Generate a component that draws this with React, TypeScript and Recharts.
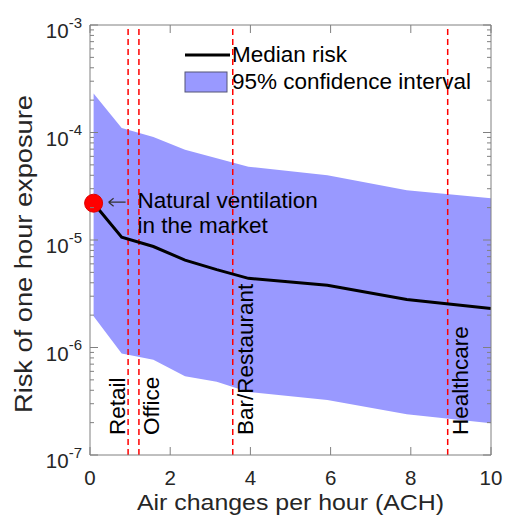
import React from "react";
import {
  ComposedChart,
  Area,
  Line,
  XAxis,
  YAxis,
  ReferenceLine,
  ReferenceDot,
  Customized,
} from "recharts";

// air changes per hour sampled in the model
const ach = [0.09, 0.79, 1.58, 2.37, 3.16, 3.95, 5.92, 7.9, 10];
const medianRisk = [2.2e-5, 1.06e-5, 8.7e-6, 6.5e-6, 5.3e-6, 4.4e-6, 3.8e-6, 2.8e-6, 2.3e-6];
const upperCI = [2.3e-4, 1.1e-4, 9.1e-5, 6.9e-5, 5.75e-5, 4.8e-5, 4.0e-5, 2.9e-5, 2.45e-5];
const lowerCI = [1.95e-6, 8.8e-7, 7.7e-7, 5.4e-7, 4.8e-7, 3.85e-7, 3.25e-7, 2.4e-7, 1.97e-7];

const venueNames = ["Retail", "Office", "Bar/Restaurant", "Healthcare"];
const venueAch = [0.95, 1.22, 3.56, 8.92];

const marketAch = 0.09;
const marketRisk = 2.2e-5;

const xTicks = [0, 2, 4, 6, 8, 10];
const majorExp = [-7, -6, -5, -4, -3];

const data = ach.map((a, i) => ({
  ach: a,
  median: medianRisk[i],
  band: [lowerCI[i], upperCI[i]],
}));

const yTicks: number[] = [];
majorExp.forEach((e) => {
  yTicks.push(Math.pow(10, e));
  if (e < -3) for (let m = 2; m <= 9; m++) yTicks.push(m * Math.pow(10, e));
});

const FONT = "'Liberation Sans', Arial, Helvetica, sans-serif";
const AXIS = "#808080";
const TXT = "#262626";

const isMajor = (v: number) => Math.abs(Math.log10(v) - Math.round(Math.log10(v))) < 1e-6;

function LeftTick(props: any) {
  const { x, y, payload } = props;
  const major = isMajor(payload.value);
  return (
    <g>
      <line x1={x} x2={x + (major ? 8 : 4)} y1={y} y2={y} stroke={AXIS} />
      {major && (
        <text x={x - 8} y={y + 13} textAnchor="end" fontSize={20.5} fill={TXT} fontFamily={FONT}>
          <tspan>10</tspan>
          <tspan dy={-10.5} fontSize={15}>{String(Math.round(Math.log10(payload.value)))}</tspan>
        </text>
      )}
    </g>
  );
}

function RightTick(props: any) {
  const { x, y, payload } = props;
  const major = isMajor(payload.value);
  return <line x1={x} x2={x - (major ? 8 : 4)} y1={y} y2={y} stroke={AXIS} />;
}

function BottomTick(props: any) {
  const { x, y, payload } = props;
  return (
    <g>
      <line x1={x} x2={x} y1={y} y2={y - 8} stroke={AXIS} />
      <text x={x} y={y + 30} textAnchor="middle" fontSize={20.5} fill={TXT} fontFamily={FONT}>
        {payload.value}
      </text>
    </g>
  );
}

function TopTick(props: any) {
  const { x, y } = props;
  return <line x1={x} x2={x} y1={y} y2={y + 8} stroke={AXIS} />;
}

function VenueLabel(name: string, left: boolean) {
  return (props: any) => {
    const { viewBox } = props;
    const x = viewBox.x + (left ? -3 : 20);
    const y = viewBox.y + viewBox.height - 20;
    return (
      <text
        x={x}
        y={y}
        transform={`rotate(-90 ${x} ${y})`}
        fontSize={22.5}
        fill="#000"
        fontFamily={FONT}
      >
        {name}
      </text>
    );
  };
}

function MarketLabel(props: any) {
  const { viewBox } = props;
  const cx = viewBox.x + viewBox.width / 2;
  const cy = viewBox.y + viewBox.height / 2;
  return (
    <g>
      <path
        d={`M${cx + 15} ${cy - 1} H${cx + 32} M${cx + 15} ${cy - 1} l5 -4 M${cx + 15} ${cy - 1} l5 4`}
        stroke="#333"
        strokeWidth={1.2}
        fill="none"
      />
      <text x={cx + 44} y={cy + 5} fontSize={22.5} fill="#000" fontFamily={FONT}>
        Natural ventilation
      </text>
      <text x={cx + 44} y={cy + 30} fontSize={22.5} fill="#000" fontFamily={FONT}>
        in the market
      </text>
    </g>
  );
}

function LegendBox() {
  return (
    <g fontFamily={FONT} fontSize={22.5}>
      <line x1={185} x2={230} y1={55} y2={55} stroke="#000" strokeWidth={3} />
      <text x={232} y={62} fill="#000">Median risk</text>
      <rect x={185} y={72} width={42} height={20} fill="#9999ff" stroke="#555577" strokeWidth={1} />
      <text x={232} y={89} fill="#000">95% confidence interval</text>
    </g>
  );
}

export default function App() {
  return (
    <div style={{ position: "absolute", left: 0, top: 0, background: "#fff" }}>
      <ComposedChart
        width={505}
        height={516}
        data={data}
        margin={{ top: 24, right: 13, bottom: 0, left: 0 }}
      >
        <XAxis
          dataKey="ach"
          type="number"
          domain={[0, 10]}
          ticks={xTicks}
          interval={0}
          allowDataOverflow
          height={61}
          stroke={AXIS}
          tickSize={0}
          tickMargin={0}
          tickLine={false}
          tick={<BottomTick />}
          label={{
            content: (p: any) => (
              <text
                x={p.viewBox.x + p.viewBox.width / 2}
                y={p.viewBox.y + 55}
                textAnchor="middle"
                fontSize={22}
                textLength={307}
                lengthAdjust="spacingAndGlyphs"
                fill={TXT}
                fontFamily={FONT}
              >
                Air changes per hour (ACH)
              </text>
            ),
          }}
        />
        <XAxis
          xAxisId="top"
          orientation="top"
          dataKey="ach"
          type="number"
          domain={[0, 10]}
          ticks={xTicks}
          interval={0}
          height={1}
          stroke={AXIS}
          tickSize={0}
          tickMargin={0}
          tickLine={false}
          tick={<TopTick />}
        />
        <YAxis
          scale="log"
          type="number"
          domain={[1e-7, 1e-3]}
          allowDataOverflow
          ticks={yTicks}
          interval={0}
          width={90}
          stroke={AXIS}
          tickSize={0}
          tickMargin={0}
          tickLine={false}
          tick={<LeftTick />}
          label={{
            content: () => {
              const x = 32;
              const y = 254;
              return (
                <text
                  x={x}
                  y={y}
                  transform={`rotate(-90 ${x} ${y})`}
                  textAnchor="middle"
                  fontSize={23}
                  textLength={318}
                  lengthAdjust="spacingAndGlyphs"
                  fill={TXT}
                  fontFamily={FONT}
                >
                  Risk of one hour exposure
                </text>
              );
            },
          }}
        />
        <YAxis
          yAxisId="right"
          orientation="right"
          scale="log"
          type="number"
          domain={[1e-7, 1e-3]}
          allowDataOverflow
          ticks={yTicks}
          interval={0}
          width={1}
          stroke={AXIS}
          tickSize={0}
          tickMargin={0}
          tickLine={false}
          tick={<RightTick />}
        />
        <Area
          dataKey="band"
          type="linear"
          fill="#9999ff"
          fillOpacity={1}
          stroke="none"
          isAnimationActive={false}
          activeDot={false}
        />
        {venueAch.map((v, i) => (
          <ReferenceLine
            key={venueNames[i]}
            x={v}
            stroke="#ff0000"
            strokeWidth={1.5}
            strokeDasharray="6 4"
            label={{ content: VenueLabel(venueNames[i], i === 0) }}
          />
        ))}
        <Line
          dataKey="median"
          type="linear"
          stroke="#000"
          strokeWidth={3}
          dot={false}
          activeDot={false}
          isAnimationActive={false}
        />
        <ReferenceDot
          x={marketAch}
          y={marketRisk}
          r={9}
          fill="#ff0000"
          stroke="#dd0000"
          label={{ content: MarketLabel }}
        />
        <Customized component={LegendBox} />
      </ComposedChart>
    </div>
  );
}
